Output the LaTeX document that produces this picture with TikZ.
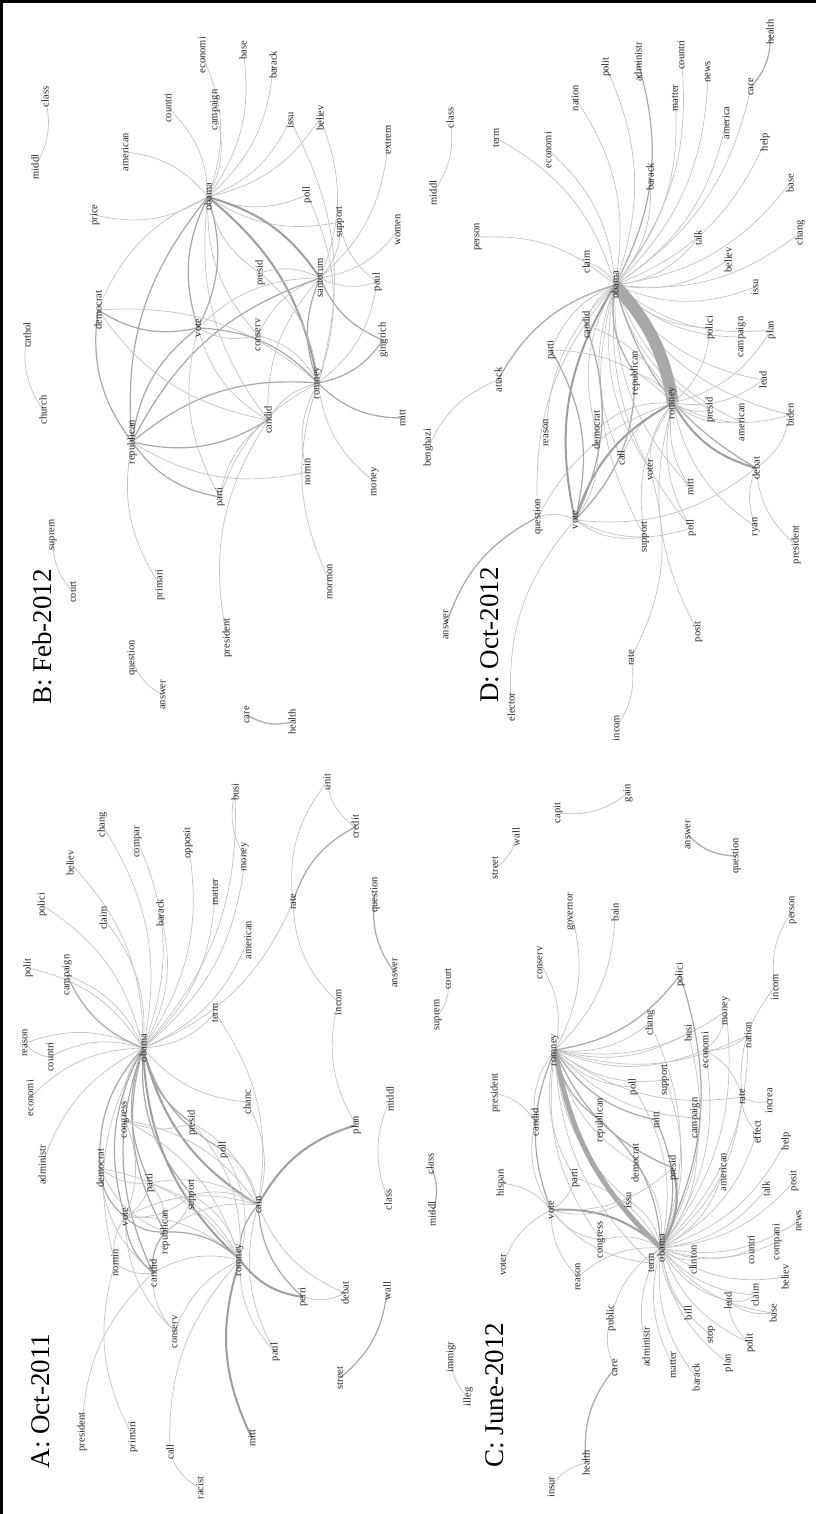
\documentclass[tikz,border=0pt]{standalone}
\usepackage{fontspec}
\setmainfont{Liberation Serif}
\pgfdeclarelayer{paper}
\pgfdeclarelayer{bg}
\pgfsetlayers{paper,bg,main}
\definecolor{eg1}{gray}{0.76}
\definecolor{eg2}{gray}{0.66}
\definecolor{eg3}{gray}{0.62}
\definecolor{eg4}{gray}{0.66}
\tikzset{
  lbl/.style={rotate=90,inner sep=0pt,text=black!85,font=\fontsize{10.5}{10.5}\selectfont},
  ttl/.style={rotate=90,inner sep=0pt,text=black,font=\fontsize{27}{27}\selectfont},
  ln/.style={draw=eg1,line width=0.7pt,bend right=22},
  lm/.style={draw=eg2,line width=1.2pt,bend right=22},
  lt/.style={draw=eg3,line width=2pt,bend right=22},
  lx/.style={draw=eg4,line width=5pt,bend right=18},
}
\newcommand\w[4]{\node[lbl] (#1#2) at (#3,#4) {#2};}
\newcommand\hub[3][ln]{\foreach \nn in {#3}{\draw[#1] (#2.center) to (\nn.center);}}
\newcommand\ed[3][ln]{\draw[#1] (#2.center) to (#3.center);}
\begin{document}
\begin{tikzpicture}[x=1pt,y=-1pt]
\useasboundingbox (0,0) rectangle (816,1514);
\begin{pgfonlayer}{paper}
\fill[white] (0,0) rectangle (816,1514);
\end{pgfonlayer}
\draw[line width=3pt] (1.5,1514) -- (1.5,1.5) -- (816,1.5);
% ---------------- titles
\node[ttl] (tA) at (41,1401) {A: Oct-2011};
\node[ttl] (tB) at (42,637) {B: Feb-2012};
\node[ttl] (tC) at (495,1395) {C: June-2012};
\node[ttl] (tD) at (490,635) {D: Oct-2012};
% ---------------- panel B
\w{b}{class}{45}{97}\w{b}{middl}{35}{167}\w{b}{american}{125}{152}\w{b}{countri}{168}{108}
\w{b}{campaign}{215}{110}\w{b}{economi}{202}{55}\w{b}{base}{243}{50}\w{b}{barack}{273}{65}
\w{b}{issu}{290}{120}\w{b}{believ}{320}{118}\w{b}{extrem}{388}{140}\w{b}{price}{95}{215}
\w{b}{obama}{208}{197}\w{b}{poll}{307}{195}\w{b}{support}{340}{222}\w{b}{women}{398}{230}
\w{b}{presid}{260}{273}\w{b}{santorum}{320}{278}\w{b}{paul}{377}{282}\w{b}{democrat}{98}{310}
\w{b}{vote}{198}{328}\w{b}{conserv}{258}{335}\w{b}{gingrich}{383}{340}\w{b}{cathol}{27}{335}
\w{b}{romney}{318}{383}\w{b}{church}{43}{410}\w{b}{republican}{132}{442}\w{b}{candid}{268}{420}
\w{b}{mitt}{402}{418}\w{b}{nomin}{307}{472}\w{b}{money}{375}{482}\w{b}{parti}{220}{497}
\w{b}{suprem}{53}{535}\w{b}{court}{73}{592}\w{b}{primari}{160}{585}\w{b}{mormon}{330}{582}
\w{b}{president}{227}{638}\w{b}{question}{132}{658}\w{b}{answer}{163}{695}\w{b}{care}{247}{715}
\w{b}{health}{292}{722}
% ---------------- panel A
\w{a}{busi}{235}{792}\w{a}{unit}{327}{782}\w{a}{chang}{102}{825}\w{a}{compar}{138}{842}
\w{a}{opposit}{188}{843}\w{a}{credit}{355}{827}\w{a}{believ}{70}{863}\w{a}{money}{245}{857}
\w{a}{polici}{42}{905}\w{a}{claim}{103}{918}\w{a}{barack}{160}{913}\w{a}{matter}{215}{892}
\w{a}{rate}{293}{902}\w{a}{question}{375}{895}\w{a}{american}{248}{940}\w{a}{polit}{28}{968}
\w{a}{campaign}{67}{975}\w{a}{answer}{395}{973}\w{a}{incom}{338}{1002}\w{a}{term}{215}{1013}
\w{a}{reason}{25}{1043}\w{a}{countri}{50}{1057}\w{a}{obama}{143}{1048}\w{a}{economi}{30}{1098}
\w{a}{chanc}{247}{1102}\w{a}{middl}{390}{1099}\w{a}{congress}{125}{1120}\w{a}{presid}{192}{1123}
\w{a}{plan}{356}{1125}\w{a}{poll}{223}{1150}\w{a}{administr}{42}{1165}\w{a}{democrat}{100}{1168}
\w{a}{parti}{150}{1183}\w{a}{support}{192}{1195}\w{a}{vote}{125}{1217}\w{a}{republican}{165}{1232}
\w{a}{nomin}{115}{1263}\w{a}{candid}{153}{1273}\w{a}{conserv}{175}{1332}\w{a}{president}{82}{1432}
\w{a}{primari}{133}{1437}\w{a}{call}{170}{1452}\w{a}{racist}{200}{1488}\w{a}{cain}{258}{1205}
\w{a}{class}{388}{1200}\w{a}{romney}{240}{1260}\w{a}{perri}{303}{1297}\w{a}{debat}{345}{1293}
\w{a}{wall}{387}{1291}\w{a}{paul}{275}{1352}\w{a}{street}{340}{1378}\w{a}{mitt}{252}{1438}
% ---------------- panel C
\w{c}{suprem}{438}{1015}\w{c}{court}{448}{979}\w{c}{capit}{558}{813}\w{c}{gain}{628}{793}
\w{c}{street}{495}{868}\w{c}{wall}{516}{837}\w{c}{answer}{688}{835}\w{c}{question}{736}{856}
\w{c}{governor}{571}{912}\w{c}{bain}{615}{912}\w{c}{conserv}{540}{963}\w{c}{person}{793}{910}
\w{c}{polici}{680}{975}\w{c}{incom}{775}{987}\w{c}{money}{726}{1011}\w{c}{chang}{650}{1023}
\w{c}{busi}{688}{1033}\w{c}{nation}{748}{1035}\w{c}{economi}{705}{1050}\w{c}{romney}{555}{1050}
\w{c}{president}{495}{1093}\w{c}{support}{665}{1080}\w{c}{poll}{633}{1087}\w{c}{candid}{535}{1122}
\w{c}{republican}{600}{1120}\w{c}{rate}{742}{1097}\w{c}{increa}{769}{1101}\w{c}{mitt}{656}{1120}
\w{c}{campaign}{695}{1118}\w{c}{effect}{757}{1132}\w{c}{help}{786}{1141}\w{c}{hispan}{501}{1183}
\w{c}{parti}{575}{1178}\w{c}{presid}{673}{1168}\w{c}{democrat}{635}{1163}\w{c}{american}{723}{1172}
\w{c}{vote}{551}{1210}\w{c}{issu}{628}{1200}\w{c}{talk}{766}{1189}\w{c}{posit}{794}{1181}
\w{c}{congress}{601}{1240}\w{c}{obama}{661}{1248}\w{c}{term}{651}{1263}\w{c}{clinton}{693}{1260}
\w{c}{countri}{751}{1250}\w{c}{compani}{777}{1242}\w{c}{news}{799}{1221}\w{c}{voter}{503}{1265}
\w{c}{reason}{578}{1277}\w{c}{believ}{785}{1277}\w{c}{claim}{755}{1295}\w{c}{lead}{728}{1301}
\w{c}{bill}{688}{1313}\w{c}{base}{773}{1313}\w{c}{public}{611}{1318}\w{c}{stop}{711}{1335}
\w{c}{polit}{750}{1343}\w{c}{administr}{646}{1347}\w{c}{care}{615}{1368}\w{c}{matter}{673}{1365}
\w{c}{plan}{728}{1363}\w{c}{barack}{696}{1377}\w{c}{middl}{432}{1214}\w{c}{class}{430}{1164}
\w{c}{immigr}{451}{1357}\w{c}{illeg}{468}{1397}\w{c}{health}{586}{1463}\w{c}{insur}{551}{1487}
% ---------------- panel D
\w{d}{class}{450}{118}\w{d}{middl}{433}{193}\w{d}{term}{496}{138}\w{d}{economi}{548}{150}
\w{d}{nation}{575}{98}\w{d}{polit}{606}{67}\w{d}{administr}{638}{62}\w{d}{matter}{675}{98}
\w{d}{countri}{681}{55}\w{d}{news}{708}{72}\w{d}{america}{726}{123}\w{d}{care}{751}{87}
\w{d}{health}{770}{32}\w{d}{help}{765}{142}\w{d}{barack}{650}{177}\w{d}{base}{790}{183}
\w{d}{person}{478}{237}\w{d}{talk}{698}{238}\w{d}{chang}{800}{233}\w{d}{claim}{586}{262}
\w{d}{believ}{728}{260}\w{d}{obama}{615}{285}\w{d}{issu}{755}{287}\w{d}{candid}{586}{325}
\w{d}{polici}{710}{328}\w{d}{campaign}{741}{337}\w{d}{plan}{771}{330}\w{d}{parti}{551}{350}
\w{d}{attack}{498}{380}\w{d}{republican}{635}{373}\w{d}{lead}{763}{380}\w{d}{benghazi}{428}{448}
\w{d}{reason}{546}{433}\w{d}{democrat}{596}{430}\w{d}{romney}{673}{403}\w{d}{presid}{710}{410}
\w{d}{american}{741}{422}\w{d}{biden}{790}{415}\w{d}{call}{621}{458}\w{d}{voter}{650}{470}
\w{d}{debat}{756}{468}\w{d}{mitt}{690}{487}\w{d}{question}{538}{517}\w{d}{vote}{575}{520}
\w{d}{ryan}{756}{527}\w{d}{poll}{691}{528}\w{d}{support}{645}{537}\w{d}{president}{796}{545}
\w{d}{answer}{446}{625}\w{d}{posit}{698}{632}\w{d}{rate}{631}{658}\w{d}{incom}{616}{728}
\w{d}{elector}{511}{707}
% ================= edges
\begin{pgfonlayer}{bg}
% ---- B
\ed{bmiddl}{bclass}\ed{bcathol}{bchurch}\ed{bsuprem}{bcourt}\ed{bquestion}{banswer}\ed[lm]{bcare}{bhealth}
\hub{bobama}{bamerican,bcountri,bcampaign,beconomi,bbase,bbarack,bissu,bbeliev,bpoll,bsupport,bpresid,bdemocrat,bconserv,bcandid}
\ed[ln,bend left=22]{bobama}{bprice}
\hub[lm]{bobama}{bvote,brepublican}
\ed[lm,bend left=22]{bobama}{bvote}
\hub[lt,bend left=20]{bobama}{bsantorum,bromney}
\hub{bsantorum}{bextrem,bwomen,bsupport,bpaul,bpresid,bconserv,bcandid,bbeliev,bvote}
\hub[lm]{bsantorum}{bgingrich,brepublican,bromney}
\hub{bromney}{bissu,bpaul,bmoney,bnomin,bmormon,bcandid,bconserv,bpresid,bparti,bpoll,bdemocrat}
\hub[lm]{bromney}{bmitt,bgingrich,bvote,brepublican}
\hub[lm]{bdemocrat}{bvote,brepublican}\ed{bdemocrat}{bcandid}
\ed[lm]{bvote}{brepublican}\hub{bvote}{bcandid,bparti,bconserv}
\hub[lm]{brepublican}{bparti,bcandid}\hub{brepublican}{bnomin,bprimari}
\hub{bcandid}{bpresident,bparti}\ed{bsupport}{bpaul}
% ---- A
\hub{aobama}{achang,acompar,aopposit,abeliev,aclaim,abarack,amatter,amoney,abusi,aamerican,apolici,apolit,acampaign,aterm,areason,acountri,aeconomi,achanc,aadministr,anomin,arate,acongress}
\ed[lm,bend left=22]{aobama}{acampaign}
\hub[lm]{aobama}{apresid,apoll,asupport,aparti,arepublican,acandid,avote,ademocrat}
\hub[lt]{aobama}{acain,aromney}
\ed{areason}{acountri}\ed{aunit}{acredit}\ed{aunit}{arate}\ed[lm]{acredit}{arate}
\ed{arate}{aincom}\ed{aincom}{aplan}\ed[lt]{aplan}{acain}\ed[lm]{aquestion}{aanswer}
\ed{amiddl}{aclass}\ed[lm]{astreet}{awall}\ed{acall}{aracist}\ed{abusi}{amoney}
\hub{acain}{adebat,apaul,avote,arepublican,acongress,apresid,apoll,asupport,achanc,aterm,aparti}
\hub[lm]{acain}{aperri,aromney}
\hub[lt]{aromney}{aperri,amitt}
\hub{aromney}{apaul,avote,acandid,aconserv,acall,aparti,acongress,ademocrat,asupport,apoll,apresid}
\ed[lm]{aromney}{arepublican}\ed{aperri}{adebat}
\ed[lm]{ademocrat}{avote}\hub{ademocrat}{arepublican,acandid,aparti}
\hub[lm]{avote}{arepublican,acandid}\hub{avote}{anomin,aparti,aconserv,asupport,acongress}
\ed[lm]{arepublican}{acandid}\hub{arepublican}{aparti,asupport}
\hub{acandid}{apresident,aconserv}\hub{anomin}{aprimari,acandid}\ed{acongress}{apresid}
% ---- C
\ed{csuprem}{ccourt}\ed{cstreet}{cwall}\ed{ccapit}{cgain}\ed[lm]{canswer}{cquestion}
\ed[lm]{cmiddl}{cclass}\ed{cimmigr}{cilleg}\ed{cpublic}{ccare}\ed[lm]{ccare}{chealth}
\ed{chealth}{cinsur}\ed{cperson}{cincom}\ed{cincom}{crate}
\hub{cromney}{cconserv,cgovernor,cbain,cchang,cbusi,cnation,ccandid,csupport,cpoll,ccampaign,cterm,cparti,cissu,cdemocrat,ccongress,crate,ceconomi,cmoney}
\hub[lm]{cromney}{cpolici,crepublican,cmitt,cpresid,cvote}
\ed{ccandid}{cpresident}\ed{ccandid}{cvote}
\hub{cobama}{cterm,cclinton,ccountri,ccompani,cnews,cbeliev,cclaim,clead,cbase,cbill,cstop,cpolit,cplan,cbarack,cmatter,cadministr,cpublic,creason,ccongress,cparti,cissu,cdemocrat,camerican,ctalk,cposit,chelp,ceffect,crate,ceconomi,cmoney,csupport,cpoll,cbusi,cchang,cnation,ccampaign}
\hub[lm]{cobama}{cpolici,crepublican,cmitt}
\hub[lt]{cobama}{cpresid,cvote}
\draw[lx,line width=5pt] (cromney.center) to (cobama.center);
\hub{cvote}{chispan,cvoter,creason,cparti,ccongress,cterm,cissu,cpresid}
\hub{clead}{cpolit,cbase,cclaim}\hub{crate}{ceconomi,cincrea,ceffect}
\ed{ceconomi}{cmoney}\ed{ceconomi}{cnation}
% ---- D
\ed{dmiddl}{dclass}\ed[lm]{dcare}{dhealth}\ed{dincom}{drate}
\hub{dobama}{dperson,dterm,deconomi,dnation,dpolit,dbarack,dmatter,dcountri,dnews,damerica,dcare,dhelp,dbase,dtalk,dchang,dbeliev,dissu,dclaim,dcandid,dparti,dpolici,dcampaign,dplan,dlead,dpresid,damerican,ddemocrat,dcall,dvoter,dmitt,dpoll,dsupport,dquestion,dreason,dbiden}
\hub[lm]{dobama}{dadministr,dattack,drepublican,ddebat}
\ed[lt]{dobama}{dvote}
\draw[lx,line width=12pt,bend left=16] (dobama.center) to (dromney.center);
\ed{dattack}{dbenghazi}
\hub{dromney}{dpresid,damerican,dbiden,dmitt,dpoll,dsupport,dvoter,dcall,ddemocrat,drepublican,dparti,dcandid,dquestion,dryan,dposit,dlead,dplan,dpolici}
\hub[lt]{dromney}{dvote,ddebat}
\hub{dvote}{dquestion,dsupport,ddebat,delector,dpoll,ddemocrat}
\hub[lm]{dvote}{dparti,dcandid,drepublican}
\ed[lm]{dquestion}{danswer}
\hub{ddebat}{dpresident,dryan,dbiden}\ed{drate}{dvoter}
\end{pgfonlayer}
\end{tikzpicture}
\end{document}
